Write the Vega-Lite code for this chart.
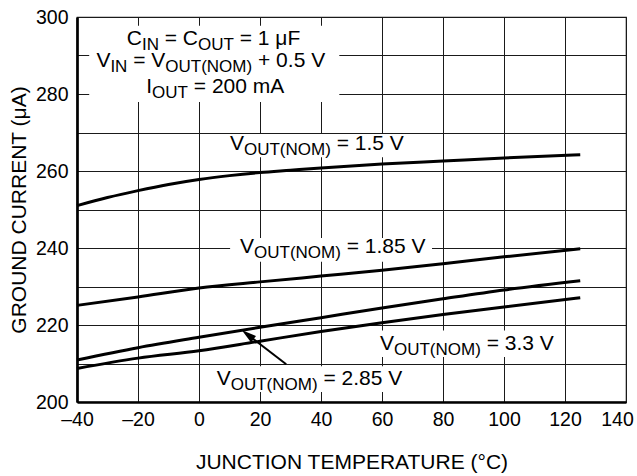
{
  "$schema": "https://vega.github.io/schema/vega-lite/v6.json",
  "width": 549,
  "height": 385,
  "autosize": {"type": "none"},
  "padding": {"left": 77, "top": 17, "right": 11, "bottom": 74},
  "background": "white",
  "config": {
    "font": "Liberation Sans",
    "view": {"stroke": "#222", "strokeWidth": 1.2},
    "axis": {
      "domainColor": "black",
      "domainWidth": 2.7,
      "gridColor": "#1a1a1a",
      "gridWidth": 1,
      "gridOpacity": 1,
      "ticks": false,
      "labelFont": "Liberation Sans",
      "labelFontSize": 19.5,
      "labelColor": "black",
      "titleFont": "Liberation Sans",
      "titleFontSize": 21,
      "titleFontWeight": "normal",
      "titleColor": "black"
    }
  },
  "datasets": {
    "curves": [
      {"series": "1.5", "x": -40, "y": 251.0},
      {"series": "1.5", "x": -30, "y": 253.1},
      {"series": "1.5", "x": -20, "y": 254.9},
      {"series": "1.5", "x": -10, "y": 256.5},
      {"series": "1.5", "x": 0, "y": 257.8},
      {"series": "1.5", "x": 10, "y": 258.8},
      {"series": "1.5", "x": 20, "y": 259.6},
      {"series": "1.5", "x": 30, "y": 260.2},
      {"series": "1.5", "x": 40, "y": 260.8},
      {"series": "1.5", "x": 60, "y": 261.8},
      {"series": "1.5", "x": 80, "y": 262.6},
      {"series": "1.5", "x": 100, "y": 263.4},
      {"series": "1.5", "x": 125, "y": 264.2},
      {"series": "1.85", "x": -40, "y": 225.1},
      {"series": "1.85", "x": -20, "y": 227.3},
      {"series": "1.85", "x": 0, "y": 229.6},
      {"series": "1.85", "x": 20, "y": 231.2},
      {"series": "1.85", "x": 40, "y": 232.7},
      {"series": "1.85", "x": 60, "y": 234.2},
      {"series": "1.85", "x": 80, "y": 235.9},
      {"series": "1.85", "x": 100, "y": 237.7},
      {"series": "1.85", "x": 125, "y": 239.8},
      {"series": "2.85", "x": -40, "y": 210.9},
      {"series": "2.85", "x": -20, "y": 214.1},
      {"series": "2.85", "x": 0, "y": 216.8},
      {"series": "2.85", "x": 20, "y": 219.4},
      {"series": "2.85", "x": 40, "y": 221.9},
      {"series": "2.85", "x": 60, "y": 224.4},
      {"series": "2.85", "x": 80, "y": 226.8},
      {"series": "2.85", "x": 100, "y": 229.1},
      {"series": "2.85", "x": 125, "y": 231.5},
      {"series": "3.3", "x": -40, "y": 208.7},
      {"series": "3.3", "x": -20, "y": 211.4},
      {"series": "3.3", "x": 0, "y": 213.3},
      {"series": "3.3", "x": 20, "y": 215.8},
      {"series": "3.3", "x": 40, "y": 218.3},
      {"series": "3.3", "x": 60, "y": 220.6},
      {"series": "3.3", "x": 80, "y": 222.7},
      {"series": "3.3", "x": 100, "y": 224.7},
      {"series": "3.3", "x": 125, "y": 227.1}
    ],
    "masks": [
      {"x": -36, "x2": 46, "y": 277.9, "y2": 297.7},
      {"x": 8.5, "x2": 69.2, "y": 263.6, "y2": 269.6},
      {"x": 10.2, "x2": 76.4, "y": 236.4, "y2": 242.6},
      {"x": 4.3, "x2": 68.5, "y": 202.6, "y2": 209.3},
      {"x": 57.4, "x2": 118.7, "y": 211.7, "y2": 218.6}
    ],
    "labels": [
      {"kind": "main", "x": -23.70, "y": 292.7, "text": "C"},
      {"kind": "sub", "x": -18.72, "y": 292.7, "text": "IN"},
      {"kind": "main", "x": -11.24, "y": 292.7, "text": "= C"},
      {"kind": "sub", "x": -0.33, "y": 292.7, "text": "OUT"},
      {"kind": "main", "x": 13.35, "y": 292.7, "text": "= 1 μF"},
      {"kind": "main", "x": -33.64, "y": 287.0, "text": "V"},
      {"kind": "sub", "x": -29.05, "y": 287.0, "text": "IN"},
      {"kind": "main", "x": -21.57, "y": 287.0, "text": "= V"},
      {"kind": "sub", "x": -11.05, "y": 287.0, "text": "OUT(NOM)"},
      {"kind": "main", "x": 19.35, "y": 287.0, "text": "+ 0.5 V"},
      {"kind": "main", "x": -17.28, "y": 280.3, "text": "I"},
      {"kind": "sub", "x": -15.38, "y": 280.3, "text": "OUT"},
      {"kind": "main", "x": -1.70, "y": 280.3, "text": "= 200 mA"},
      {"kind": "main", "x": 10.16, "y": 265.45, "text": "V"},
      {"kind": "sub", "x": 14.75, "y": 265.45, "text": "OUT(NOM)"},
      {"kind": "main", "x": 45.16, "y": 265.45, "text": "= 1.5 V"},
      {"kind": "main", "x": 13.44, "y": 238.6, "text": "V"},
      {"kind": "sub", "x": 18.03, "y": 238.6, "text": "OUT(NOM)"},
      {"kind": "main", "x": 48.43, "y": 238.6, "text": "= 1.85 V"},
      {"kind": "main", "x": 5.80, "y": 204.4, "text": "V"},
      {"kind": "sub", "x": 10.39, "y": 204.4, "text": "OUT(NOM)"},
      {"kind": "main", "x": 40.80, "y": 204.4, "text": "= 2.85 V"},
      {"kind": "main", "x": 59.34, "y": 213.5, "text": "V"},
      {"kind": "sub", "x": 63.93, "y": 213.5, "text": "OUT(NOM)"},
      {"kind": "main", "x": 94.34, "y": 213.5, "text": "= 3.3 V"}
    ],
    "arrow": [
      {"x": 28.6, "y": 209.8, "x2": 16.1, "y2": 217.4}
    ],
    "arrowhead": [
      {"x": 14.0, "y": 218.7}
    ]
  },
  "encoding": {
    "x": {
      "field": "x", "type": "quantitative",
      "scale": {"domain": [-40, 140], "nice": false, "zero": false},
      "axis": {
        "title": "JUNCTION TEMPERATURE (°C)",
        "values": [-40, -20, 0, 20, 40, 60, 80, 100, 120, 140],
        "labelExpr": "datum.value < 0 ? '–' + abs(datum.value) : datum.label",
        "labelPadding": 8,
        "labelFlush": false,
        "labelOverlap": false,
        "labelOffset": {"condition": {"test": "datum.value == 140", "value": -9}, "value": 0},
        "titleBaseline": "alphabetic",
        "titleY": 66
      }
    },
    "y": {
      "field": "y", "type": "quantitative",
      "scale": {"domain": [200, 300], "nice": false, "zero": false},
      "axis": {
        "title": "GROUND CURRENT (μA)",
        "values": [200, 210, 220, 230, 240, 250, 260, 270, 280, 290, 300],
        "labelExpr": "datum.value % 20 == 0 ? datum.label : ''",
        "labelPadding": 9,
        "labelFlush": false,
        "labelOverlap": false,
        "titleBaseline": "alphabetic",
        "titleX": -52,
        "titleY": 192.5
      }
    }
  },
  "layer": [
    {
      "data": {"name": "masks"},
      "mark": {"type": "rect", "fill": "white", "stroke": null},
      "encoding": {
        "x2": {"field": "x2"},
        "y2": {"field": "y2"}
      }
    },
    {
      "data": {"name": "curves"},
      "mark": {"type": "line", "color": "black", "strokeWidth": 3, "interpolate": "monotone"},
      "encoding": {
        "detail": {"field": "series"}
      }
    },
    {
      "data": {"name": "arrow"},
      "mark": {"type": "rule", "color": "black", "strokeWidth": 2},
      "encoding": {
        "x2": {"field": "x2"},
        "y2": {"field": "y2"}
      }
    },
    {
      "data": {"name": "arrowhead"},
      "mark": {"type": "point", "shape": "M0,0L-0.8,3L0.8,3Z", "filled": true, "color": "black", "opacity": 1, "size": 100, "angle": 308},
      "encoding": {}
    },
    {
      "data": {"name": "labels"},
      "transform": [{"filter": "datum.kind == 'main'"}],
      "mark": {"type": "text", "align": "left", "baseline": "alphabetic", "fontSize": 21, "font": "Liberation Sans", "color": "black"},
      "encoding": {
        "text": {"field": "text"}
      }
    },
    {
      "data": {"name": "labels"},
      "transform": [{"filter": "datum.kind == 'sub'"}],
      "mark": {"type": "text", "align": "left", "baseline": "alphabetic", "fontSize": 17, "dy": 5, "font": "Liberation Sans", "color": "black"},
      "encoding": {
        "text": {"field": "text"}
      }
    }
  ]
}
